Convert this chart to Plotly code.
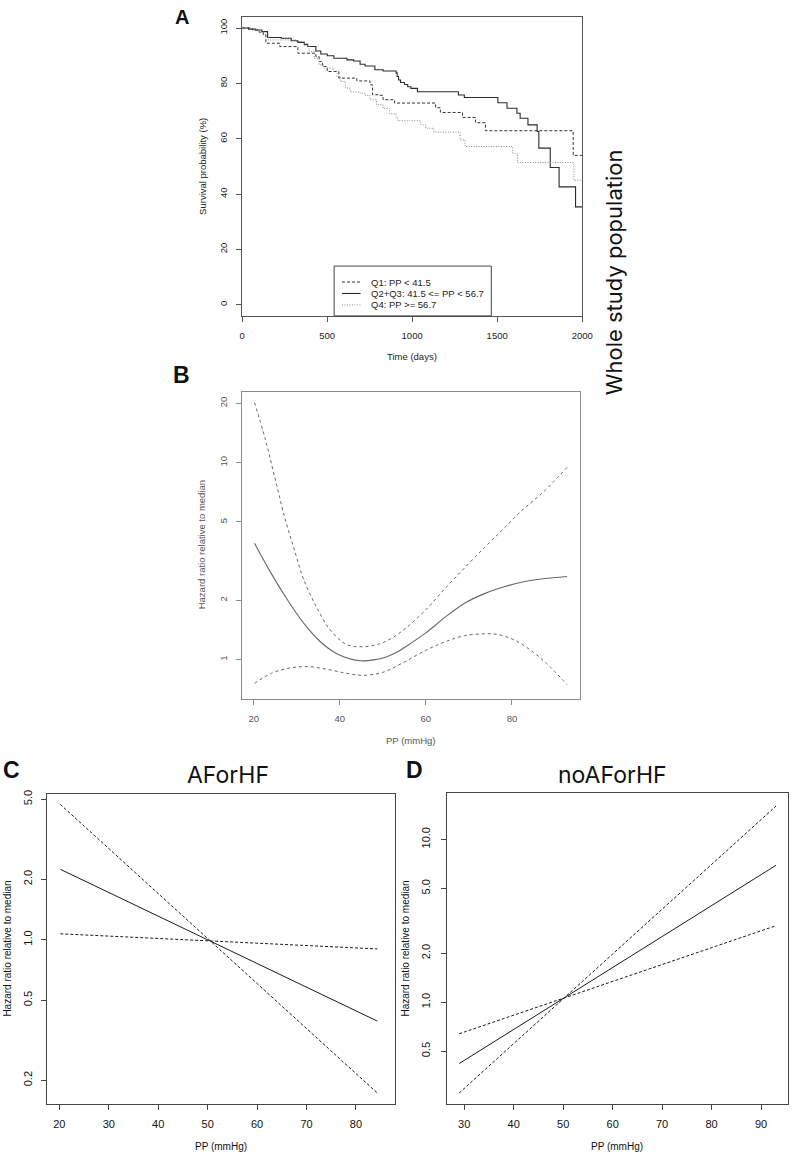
import plotly.graph_objects as go

W, H = 802, 1152

# ---------------- Panel A: Kaplan-Meier survival ----------------
a_names = ["Q1: PP < 41.5", "Q2+Q3: 41.5 <= PP < 56.7", "Q4: PP >= 56.7"]

q1_t = [0, 60, 100, 125, 140, 222, 328, 434, 453, 472, 501, 569, 675, 752, 767, 810, 829, 897,
        1138, 1166, 1296, 1373, 1431, 1947, 2000]
q1_s = [100, 99.3, 98.5, 97.6, 94.5, 93.3, 90.9, 89.7, 87.9, 86.1, 84.3, 81.9, 80.9, 79.5, 75.9,
        75.7, 74.1, 72.9, 71.2, 69.5, 67.7, 65.8, 62.9, 54.0, 54.0]

q23_t = [0, 39, 77, 116, 150, 231, 289, 328, 366, 386, 434, 463, 501, 540, 617, 656, 694, 723,
         781, 829, 906, 912, 920, 932, 955, 974, 993, 1031, 1272, 1307, 1504, 1558, 1616, 1635,
         1681, 1735, 1745, 1812, 1864, 1961, 2000]
q23_s = [100, 99.6, 99.3, 98.7, 96.6, 96.3, 95.4, 94.8, 94.1, 93.3, 91.7, 90.6, 90.0, 89.1, 88.5,
         88.1, 86.9, 86.3, 84.9, 84.5, 83.8, 82.5, 81.2, 80.3, 79.6, 78.8, 78.2, 77.0, 75.8, 74.9,
         73.0, 71.0, 69.2, 67.4, 65.0, 62.6, 56.6, 49.6, 42.6, 35.4, 35.4]

q4_t = [0, 58, 96, 125, 154, 318, 366, 395, 424, 453, 482, 540, 559, 578, 607, 636, 694, 723,
        752, 790, 829, 868, 906, 916, 1051, 1080, 1128, 1282, 1311, 1591, 1619, 1951, 2000]
q4_s = [100, 99.6, 98.9, 97.5, 95.7, 95.1, 93.6, 91.5, 89.1, 86.7, 85.5, 84.3, 82.5, 80.7, 78.3,
        76.9, 76.4, 75.7, 74.1, 72.3, 70.9, 69.0, 67.5, 66.5, 65.0, 63.8, 62.4, 59.6, 57.2, 54.8,
        51.4, 45.0, 45.0]

a_xticks = [0, 500, 1000, 1500, 2000]
a_yticks = [0, 20, 40, 60, 80, 100]

# ---------------- Panel B: whole population spline ----------------
b_pp = [20.2, 24.1, 27.9, 31.7, 35.5, 39.3, 44.7, 48.5, 50.8, 53.0, 55.3, 59.9, 64.5, 69.0,
        73.6, 78.2, 82.7, 87.3, 92.8]
b_hr = [3.90, 2.73, 2.00, 1.52, 1.23, 1.07, 0.985, 1.0, 1.03, 1.08, 1.16, 1.36, 1.64, 1.93,
        2.16, 2.34, 2.48, 2.57, 2.64]
b_up_pp = [20.2, 22.6, 24.9, 27.2, 29.5, 31.7, 34.8, 37.8, 41.6, 45.4, 49.2, 52.0, 55.3, 59.9,
           64.5, 69.0, 73.6, 78.2, 82.7, 87.3, 92.8]
b_up = [20.2, 13.4, 8.43, 5.28, 3.58, 2.52, 1.81, 1.41, 1.19, 1.16, 1.20, 1.28, 1.44, 1.78,
        2.30, 2.92, 3.70, 4.65, 5.82, 7.10, 9.46]
b_lo_pp = [20.2, 24.1, 27.9, 32.5, 37.1, 41.6, 45.4, 50.0, 54.6, 59.9, 64.5, 69.0, 73.6, 76.6,
           80.4, 84.2, 88.0, 92.8]
b_lo = [0.756, 0.85, 0.90, 0.92, 0.89, 0.85, 0.83, 0.86, 0.96, 1.11, 1.23, 1.32, 1.35, 1.34,
        1.26, 1.12, 0.955, 0.745]
b_xticks = [20, 40, 60, 80]
b_yticks = [1, 2, 5, 10, 20]

# ---------------- Panel C: AForHF ----------------
c_pp = [20.2, 84.3]
c_fit = [2.24, 0.394]
c_ci_steep = [4.71, 0.173]
c_ci_flat = [1.07, 0.90]
c_xticks = [20, 30, 40, 50, 60, 70, 80]
c_yticks = [0.2, 0.5, 1.0, 2.0, 5.0]
c_ylabels = ["0.2", "0.5", "1.0", "2.0", "5.0"]

# ---------------- Panel D: noAForHF ----------------
d_pp = [29.0, 93.0]
d_fit = [0.42, 6.93]
d_ci_steep = [0.277, 16.0]
d_ci_flat = [0.64, 2.95]
d_xticks = [30, 40, 50, 60, 70, 80, 90]
d_yticks = [0.5, 1.0, 2.0, 5.0, 10.0]
d_ylabels = ["0.5", "1.0", "2.0", "5.0", "10.0"]

FONT = "Liberation Sans, Arial, sans-serif"
TITLE_FONT = "Inter, Noto Sans, sans-serif"

fig = go.Figure()

def px2x(px):
    return px / W

def py2y(py):
    return 1 - py / H

# --- A traces
A_DARK = "#333333"
fig.add_trace(go.Scatter(x=q1_t, y=q1_s, mode="lines", line_shape="hv",
                         line=dict(color=A_DARK, width=1, dash="3px,2px"),
                         xaxis="x", yaxis="y", name=a_names[0], showlegend=False))
fig.add_trace(go.Scatter(x=q23_t, y=q23_s, mode="lines", line_shape="hv",
                         line=dict(color="#2a2a2a", width=1.1),
                         xaxis="x", yaxis="y", name=a_names[1], showlegend=False))
fig.add_trace(go.Scatter(x=q4_t, y=q4_s, mode="lines", line_shape="hv",
                         line=dict(color="#8a8a8a", width=1, dash="1px,1.5px"),
                         xaxis="x", yaxis="y", name=a_names[2], showlegend=False))

# --- B traces
B_COL = "#666666"
fig.add_trace(go.Scatter(x=b_pp, y=b_hr, mode="lines", line_shape="spline",
                         line=dict(color=B_COL, width=1.1, smoothing=1.0),
                         xaxis="x2", yaxis="y2", showlegend=False))
fig.add_trace(go.Scatter(x=b_up_pp, y=b_up, mode="lines", line_shape="spline",
                         line=dict(color=B_COL, width=1, dash="3px,3px", smoothing=1.0),
                         xaxis="x2", yaxis="y2", showlegend=False))
fig.add_trace(go.Scatter(x=b_lo_pp, y=b_lo, mode="lines", line_shape="spline",
                         line=dict(color=B_COL, width=1, dash="3px,3px", smoothing=1.0),
                         xaxis="x2", yaxis="y2", showlegend=False))

# --- C traces
CD_COL = "#1a1a1a"
fig.add_trace(go.Scatter(x=c_pp, y=c_fit, mode="lines", line=dict(color=CD_COL, width=1),
                         xaxis="x3", yaxis="y3", showlegend=False))
fig.add_trace(go.Scatter(x=c_pp, y=c_ci_steep, mode="lines",
                         line=dict(color=CD_COL, width=1, dash="3px,2px"),
                         xaxis="x3", yaxis="y3", showlegend=False))
fig.add_trace(go.Scatter(x=c_pp, y=c_ci_flat, mode="lines",
                         line=dict(color=CD_COL, width=1, dash="3px,2px"),
                         xaxis="x3", yaxis="y3", showlegend=False))

# --- D traces
fig.add_trace(go.Scatter(x=d_pp, y=d_fit, mode="lines", line=dict(color=CD_COL, width=1),
                         xaxis="x4", yaxis="y4", showlegend=False))
fig.add_trace(go.Scatter(x=d_pp, y=d_ci_steep, mode="lines",
                         line=dict(color=CD_COL, width=1, dash="3px,2px"),
                         xaxis="x4", yaxis="y4", showlegend=False))
fig.add_trace(go.Scatter(x=d_pp, y=d_ci_flat, mode="lines",
                         line=dict(color=CD_COL, width=1, dash="3px,2px"),
                         xaxis="x4", yaxis="y4", showlegend=False))


def xax(domain, rng, ticks, anchor, color, fsize, fcolor, labels=None, standoff=4):
    d = dict(domain=domain, range=rng, anchor=anchor, tickmode="array", tickvals=ticks,
             ticks="outside", ticklen=5, tickcolor=color, tickwidth=1,
             showline=True, linecolor=color, linewidth=1, mirror=True,
             showgrid=False, zeroline=False, fixedrange=True,
             tickfont=dict(family=FONT, size=fsize, color=fcolor),
             ticklabelstandoff=standoff)
    if labels is not None:
        d["ticktext"] = labels
    return d


def yax(domain, rng, ticks, anchor, color, fsize, fcolor, labels=None, log=False, standoff=4):
    d = xax(domain, rng, ticks, anchor, color, fsize, fcolor, labels, standoff)
    d["tickangle"] = -90
    if log:
        d["type"] = "log"
    return d


A_dom_x = [px2x(243.3), px2x(589.5)]
A_dom_y = [py2y(313), py2y(13)]
B_dom_x = [px2x(243.3), px2x(587)]
B_dom_y = [py2y(697), py2y(389)]
C_dom_x = [px2x(45), px2x(399)]
C_dom_y = [py2y(1104), py2y(792.7)]
D_dom_x = [px2x(451.7), px2x(799.3)]
D_dom_y = [py2y(1104), py2y(791.7)]

fig.update_layout(
    width=W, height=H, margin=dict(l=0, r=0, t=0, b=0),
    paper_bgcolor="white", plot_bgcolor="white", showlegend=False,
    xaxis=xax(A_dom_x, [0, 2000], a_xticks, "y", "#555555", 9.5, "#222222", standoff=6),
    yaxis=yax(A_dom_y, [-4, 104], a_yticks, "x", "#555555", 9.5, "#222222", standoff=5),
    xaxis2=xax(B_dom_x, [17.3, 95.75], b_xticks, "y2", "#8c8c8c", 9.5, "#555555", standoff=6),
    yaxis2=yax(B_dom_y, [-0.199, 1.361], b_yticks, "x2", "#8c8c8c", 9.5, "#555555",
               labels=[str(v) for v in b_yticks], log=True, standoff=5),
    xaxis3=xax(C_dom_x, [17.55, 87.9], c_xticks, "y3", "#444444", 11, "#111111", standoff=5),
    yaxis3=yax(C_dom_y, [-0.818, 0.725], c_yticks, "x3", "#444444", 11, "#111111",
               labels=c_ylabels, log=True, standoff=5),
    xaxis4=xax(D_dom_x, [26.5, 95.5], d_xticks, "y4", "#444444", 11, "#111111", standoff=5),
    yaxis4=yax(D_dom_y, [-0.626, 1.285], d_yticks, "x4", "#444444", 11, "#111111",
               labels=d_ylabels, log=True, standoff=6),
)

ann = []
def txt(x, y, s, size, color="#111111", family=FONT, angle=0, bold=False, xanchor="center"):
    ann.append(dict(x=px2x(x), y=py2y(y), xref="paper", yref="paper",
                    text=("<b>%s</b>" % s) if bold else s,
                    showarrow=False, xanchor=xanchor, yanchor="middle", textangle=angle,
                    font=dict(family=family, size=size, color=color)))

# panel letters
txt(182, 13.5, "A", 20, "#111111", bold=True)
txt(182, 372, "B", 23, "#111111", bold=True)
txt(8.5, 768.5, "C", 23, "#111111", bold=True)
txt(418.5, 768.5, "D", 23, "#111111", bold=True)

# axis titles
txt(203, 163, "Survival probability (%)", 9.5, "#222222", angle=-90)
txt(416.7, 354, "Time (days)", 9.5, "#222222")
txt(201.7, 543, "Hazard ratio relative to median", 9.5, "#555555", angle=-90)
txt(415, 739, "PP (mmHg)", 9.5, "#555555")
txt(5, 948, "Hazard ratio relative to median", 10, "#111111", angle=-90)
txt(222, 1146, "PP (mmHg)", 10, "#111111")
txt(410, 948, "Hazard ratio relative to median", 10, "#111111", angle=-90)
txt(625, 1146, "PP (mmHg)", 10, "#111111")

# panel titles
txt(228.7, 774, "AForHF", 23, "#111111", family=TITLE_FONT)
txt(620.7, 774, "noAForHF", 23, "#111111", family=TITLE_FONT)

# side label
txt(622, 269, "Whole study population", 22, "#111111", family=TITLE_FONT, angle=-90)

# legend for panel A
leg_rows_y = [279, 290.5, 302]
leg_styles = [dict(color=A_DARK, width=1, dash="3px,2px"),
              dict(color="#2a2a2a", width=1.1),
              dict(color="#8a8a8a", width=1, dash="1px,1.5px")]
shapes = [dict(type="rect", xref="paper", yref="paper", x0=px2x(337), x1=px2x(497),
               y0=py2y(313), y1=py2y(263), line=dict(color="#444444", width=1), fillcolor="white",
               layer="above")]
for yy, st, nm in zip(leg_rows_y, leg_styles, a_names):
    shapes.append(dict(type="line", xref="paper", yref="paper", x0=px2x(345), x1=px2x(364),
                       y0=py2y(yy), y1=py2y(yy), line=st, layer="above"))
    txt(372, yy, nm, 9.5, "#222222", xanchor="left")

fig.update_layout(annotations=ann, shapes=shapes)
fig.write_html("out.html", config={"displayModeBar": False},
               post_script="document.body.style.margin='0px';document.documentElement.style.overflow='hidden';")
